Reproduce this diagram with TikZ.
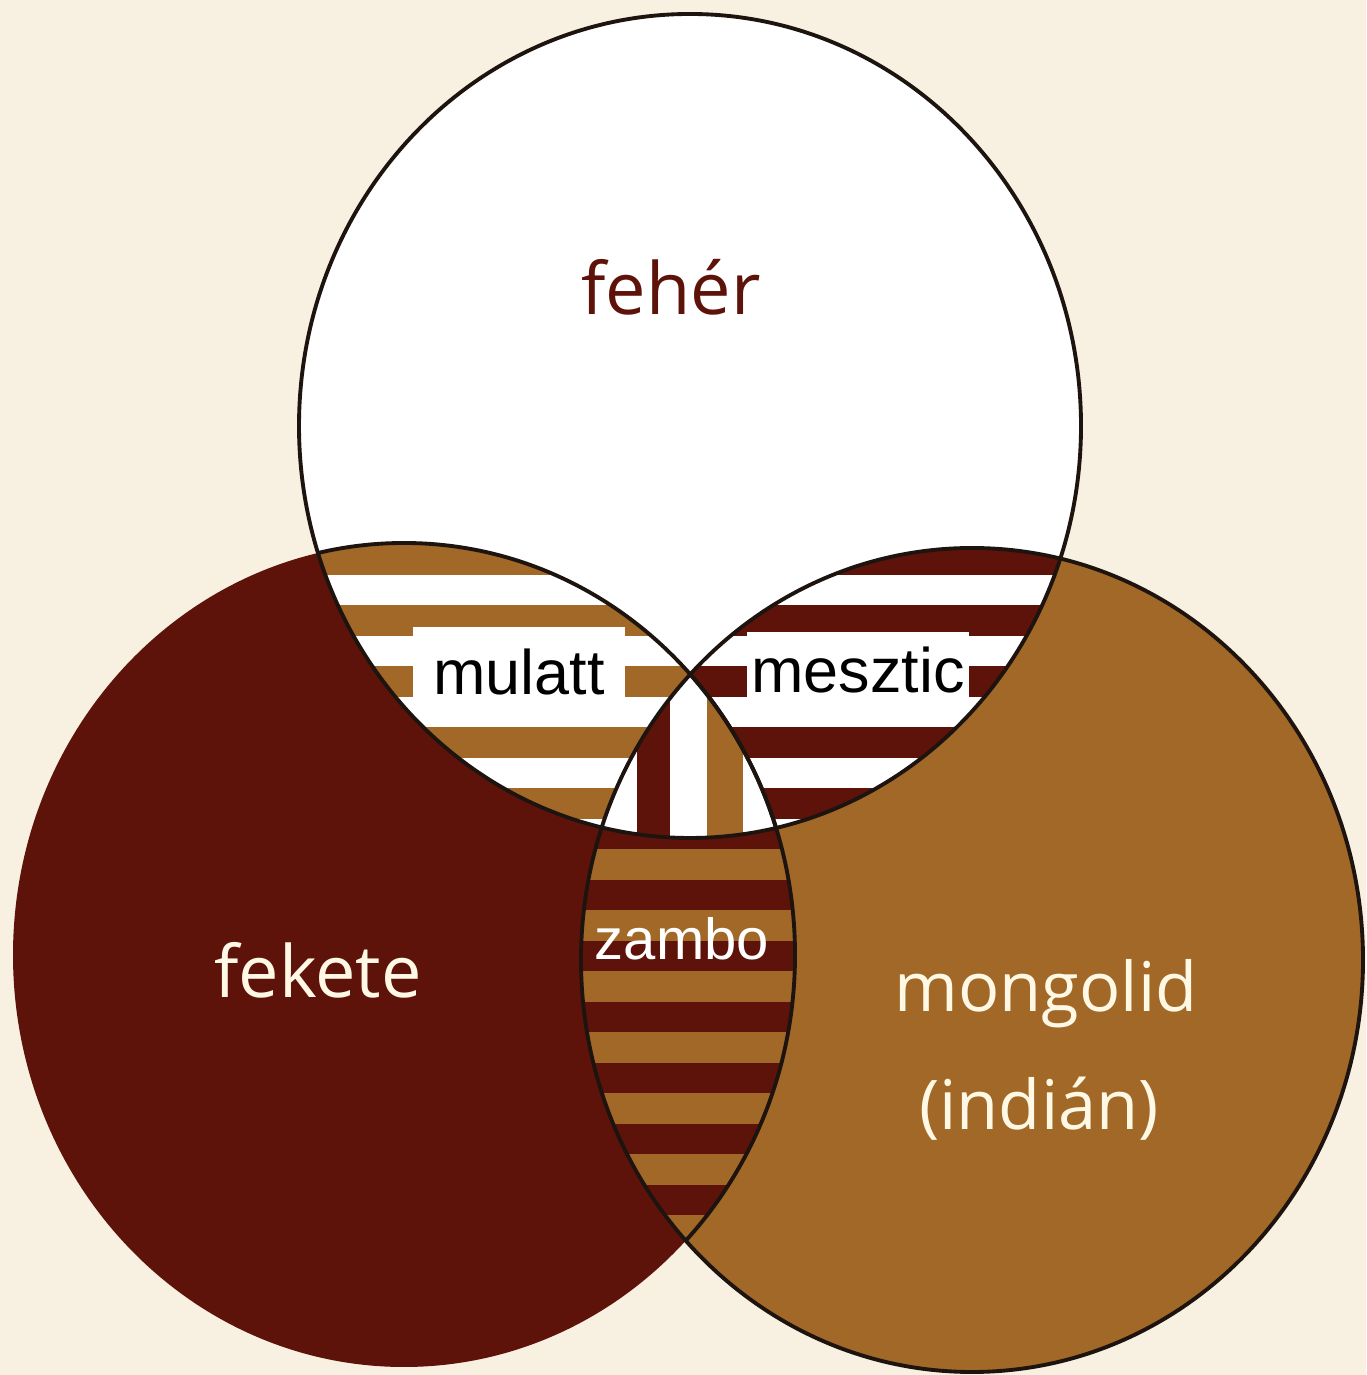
\documentclass[tikz,border=0pt]{standalone}
\usepackage{fontspec}
\usepackage{xcolor}
\usepackage{tikz}
\newfontfamily\cimbetu{Open Sans}
\newfontfamily\keverbetu{Liberation Sans}
\definecolor{krem}{RGB}{248,240,224}
\definecolor{sotet}{RGB}{94,19,10}
\definecolor{okker}{RGB}{161,104,40}
\definecolor{feliratkrem}{RGB}{255,248,228}
\definecolor{korvonal}{RGB}{30,20,15}

\begin{document}
\begin{tikzpicture}[
    cim/.style={anchor=base,inner sep=0pt,font=\cimbetu\fontsize{20.5}{24}\selectfont},
    kever/.style={anchor=base,fill=white,inner xsep=0pt,inner ysep=0.02cm,font=\keverbetu\fontsize{17.9}{21}\selectfont},
    kor/.style={draw=korvonal,line width=1.1pt}]
      \useasboundingbox (0,0) rectangle (13.66,13.75);
      \fill[krem](0,0) rectangle (13.66,13.75);
      \coordinate (F) at (6.90,9.49);
      \coordinate (B) at (4.04,4.20);
      \coordinate (J) at (9.72,4.15);
      \fill[sotet](B) ellipse [x radius=3.91,y radius=4.12];
      \fill[okker](J) ellipse [x radius=3.91,y radius=4.12];
      \fill[white](F) ellipse [x radius=3.91,y radius=4.12];
      \begin{scope}
        \clip (F) ellipse [x radius=3.91,y radius=4.12];
        \clip (B) ellipse [x radius=3.91,y radius=4.12];
        \foreach \k in {0,...,5}{\fill[okker](0,8.31-0.61*\k) rectangle (8,8.00-0.61*\k);}
      \end{scope}
      \begin{scope}
        \clip (F) ellipse [x radius=3.91,y radius=4.12];
        \clip (J) ellipse [x radius=3.91,y radius=4.12];
        \foreach \k in {0,...,5}{\fill[sotet](5,8.31-0.61*\k) rectangle (13.66,8.00-0.61*\k);}
      \end{scope}
      \begin{scope}
        \clip (B) ellipse [x radius=3.91,y radius=4.12];
        \clip (J) ellipse [x radius=3.91,y radius=4.12];
        \fill[sotet](5,0) rectangle (9,9);
        \foreach \k in {0,...,12}{\fill[okker](5,8.31-0.61*\k) rectangle (9,8.00-0.61*\k);}
      \end{scope}
      \begin{scope}
        \clip (F) ellipse [x radius=3.91,y radius=4.12];
        \clip (B) ellipse [x radius=3.91,y radius=4.12];
        \clip (J) ellipse [x radius=3.91,y radius=4.12];
        \fill[white](5,4) rectangle (9,8);
        \fill[sotet](6.37,4) rectangle (6.70,8);
        \fill[okker](7.07,4) rectangle (7.43,8);
      \end{scope}
      \draw[kor](F) ellipse [x radius=3.91,y radius=4.12];
      \draw[kor](J) ellipse [x radius=3.91,y radius=4.12];
      \begin{scope}
        \clip (F) ellipse [x radius=3.91,y radius=4.12];
        \draw[kor](B) ellipse [x radius=3.91,y radius=4.12];
      \end{scope}
      \begin{scope}
        \clip (J) ellipse [x radius=3.91,y radius=4.12];
        \draw[kor](B) ellipse [x radius=3.91,y radius=4.12];
      \end{scope}
      \node[cim,text=sotet] (feher) at (6.71,10.60) {fehér};
      \node[cim,text=feliratkrem] (fekete) at (3.18,3.77) {fekete};
      \node[cim,text=feliratkrem,font=\cimbetu\fontsize{19.5}{24}\selectfont] (mongolid) at (10.46,3.63) {mongolid};
      \node[cim,text=feliratkrem,font=\cimbetu\fontsize{19.5}{24}\selectfont] (indian) at (10.39,2.45) {(indián)};
      \node[kever,minimum width=2.12cm,text height=0.66cm,text depth=0.01cm] (mulatt) at (5.19,6.80) {mulatt};
      \node[kever,minimum width=2.22cm,text height=0.59cm,text depth=0.04cm] (mesztic) at (8.58,6.82) {mesztic};
      \node[anchor=base,inner sep=0pt,text=white,font=\keverbetu\fontsize{16.5}{20}\selectfont] (zambo) at (6.82,4.15) {zambo};
    \end{tikzpicture}
\end{document}
